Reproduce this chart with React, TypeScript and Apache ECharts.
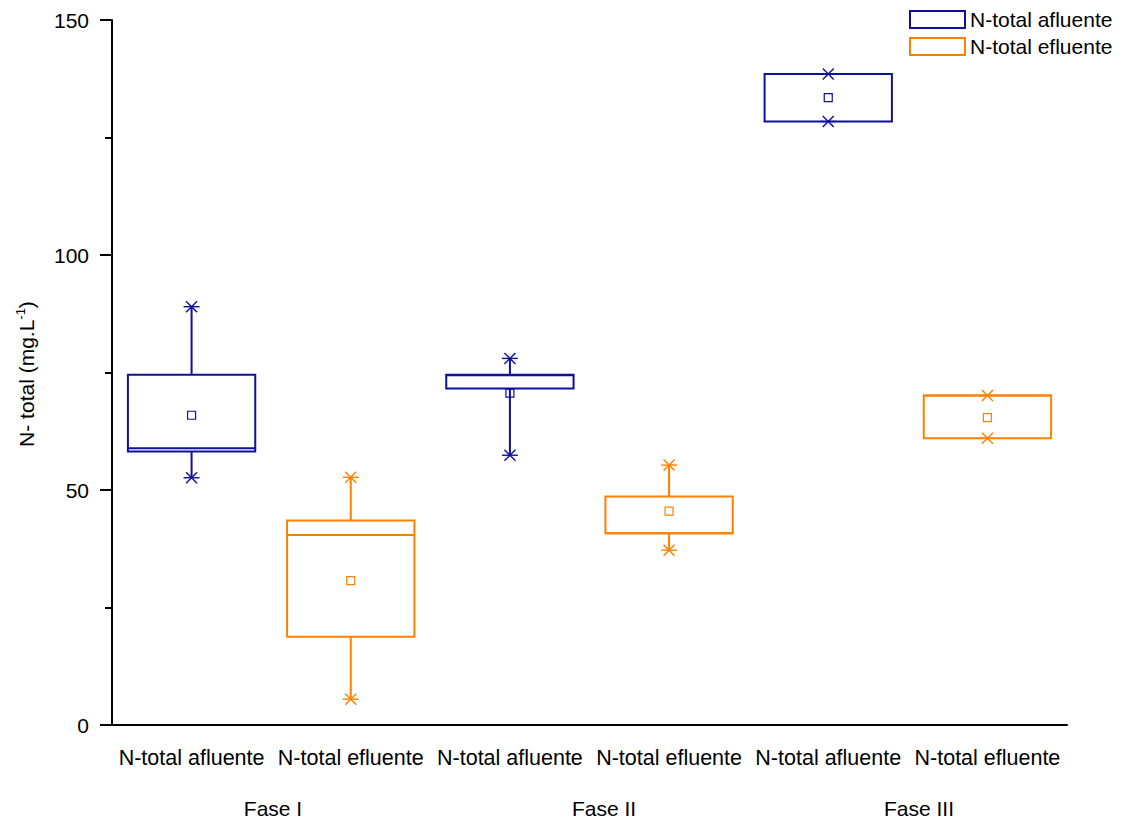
import { useEffect, useRef } from 'react';
import * as echarts from 'echarts';

// Category labels along the x axis (two per phase)
const categories = [
  'N-total afluente',
  'N-total efluente',
  'N-total afluente',
  'N-total efluente',
  'N-total afluente',
  'N-total efluente',
];

const phases = ['Fase I', 'Fase II', 'Fase III'];
const seriesNames = ['N-total afluente', 'N-total efluente'];

// Box statistics per phase: [min, Q1, median, Q3, max, mean] in mg/L
const afluenteStats = [
  [52.6, 58.2, 58.9, 74.5, 89.0, 65.9],
  [57.4, 71.6, 74.4, 74.5, 78.0, 70.6],
  [128.4, 128.4, 138.5, 138.5, 138.5, 133.5],
];
const efluenteStats = [
  [5.5, 18.8, 40.4, 43.5, 52.7, 30.7],
  [37.2, 40.8, 40.8, 48.6, 55.3, 45.5],
  [61.0, 61.0, 70.1, 70.1, 70.1, 65.4],
];

const yTicks = { min: 0, max: 150, interval: 50 };

const FONT = '"Liberation Sans", Arial, Helvetica, sans-serif';
const BLUE = '#0f0fa0';
const ORANGE = '#ff8000';

function makeRenderer(color: string) {
  return (_params: any, api: any) => {
    const xi = api.value(0);
    const pt = (v: number) => api.coord([xi, v]);
    const [cx, yMin] = pt(api.value(1));
    const yQ1 = pt(api.value(2))[1];
    const yMed = pt(api.value(3))[1];
    const yQ3 = pt(api.value(4))[1];
    const yMax = pt(api.value(5))[1];
    const yMean = pt(api.value(6))[1];
    const half = api.size([1, 0])[0] * 0.4;
    const stroke = { stroke: color, lineWidth: 2, fill: 'none' };
    const thin = { stroke: color, lineWidth: 1.4, fill: 'none' };

    const asterisk = (y: number) => [
      { type: 'line', shape: { x1: cx - 8, y1: y, x2: cx + 8, y2: y }, style: thin },
      { type: 'line', shape: { x1: cx - 5.5, y1: y - 5.5, x2: cx + 5.5, y2: y + 5.5 }, style: thin },
      { type: 'line', shape: { x1: cx - 5.5, y1: y + 5.5, x2: cx + 5.5, y2: y - 5.5 }, style: thin },
    ];

    return {
      type: 'group',
      children: [
        { type: 'line', shape: { x1: cx, y1: yQ3, x2: cx, y2: yMax }, style: stroke },
        { type: 'line', shape: { x1: cx, y1: yQ1, x2: cx, y2: yMin }, style: stroke },
        {
          type: 'rect',
          shape: { x: cx - half, y: yQ3, width: half * 2, height: yQ1 - yQ3 },
          style: stroke,
        },
        { type: 'line', shape: { x1: cx - half, y1: yMed, x2: cx + half, y2: yMed }, style: stroke },
        ...asterisk(yMax),
        ...asterisk(yMin),
        {
          type: 'rect',
          shape: { x: cx - 4, y: yMean - 4, width: 8, height: 8 },
          style: { stroke: color, lineWidth: 1.2, fill: 'none' },
        },
      ],
    };
  };
}

export default function App() {
  const ref = useRef<HTMLDivElement>(null);

  useEffect(() => {
    if (!ref.current) return;
    const chart = echarts.init(ref.current, null, { renderer: 'svg' });

    const afluenteData = afluenteStats.map((s, i) => [i * 2, ...s]);
    const efluenteData = efluenteStats.map((s, i) => [i * 2 + 1, ...s]);
    const phaseX = [273, 604, 919];

    chart.setOption({
      animation: false,
      backgroundColor: '#ffffff',
      textStyle: { fontFamily: FONT },
      grid: { left: 112, right: 59, top: 20, bottom: 96, containLabel: false },
      legend: {
        orient: 'vertical',
        left: 909,
        top: 9,
        padding: 0,
        itemWidth: 55,
        itemHeight: 17,
        itemGap: 6,
        textStyle: { fontSize: 21, color: '#000', fontFamily: FONT },
        data: [
          {
            name: seriesNames[0],
            icon: 'rect',
            itemStyle: { color: '#ffffff', borderColor: BLUE, borderWidth: 2 },
          },
          {
            name: seriesNames[1],
            icon: 'rect',
            itemStyle: { color: '#ffffff', borderColor: ORANGE, borderWidth: 2 },
          },
        ],
      },
      xAxis: {
        type: 'category',
        data: categories,
        boundaryGap: true,
        axisLine: { lineStyle: { color: '#000', width: 2 } },
        axisTick: { alignWithLabel: true, length: 13, lineStyle: { color: '#000', width: 2 } },
        axisLabel: { fontSize: 21.5, color: '#000', margin: 22, fontFamily: FONT, interval: 0 },
        splitLine: { show: false },
      },
      yAxis: {
        type: 'value',
        min: yTicks.min,
        max: yTicks.max,
        interval: yTicks.interval,
        axisLine: { show: true, lineStyle: { color: '#000', width: 2 } },
        axisTick: { show: true, length: 12, lineStyle: { color: '#000', width: 2 } },
        minorTick: { show: true, splitNumber: 2, length: 7, lineStyle: { color: '#000', width: 2 } },
        axisLabel: { fontSize: 21, color: '#000', margin: 23, fontFamily: FONT },
        splitLine: { show: false },
      },
      series: [
        {
          name: seriesNames[0],
          type: 'custom',
          itemStyle: { color: BLUE },
          renderItem: makeRenderer(BLUE),
          encode: { x: 0, y: [1, 2, 3, 4, 5, 6] },
          data: afluenteData,
          z: 3,
        },
        {
          name: seriesNames[1],
          type: 'custom',
          itemStyle: { color: ORANGE },
          renderItem: makeRenderer(ORANGE),
          encode: { x: 0, y: [1, 2, 3, 4, 5, 6] },
          data: efluenteData,
          z: 3,
        },
      ],
      graphic: [
        ...phases.map((p, i) => ({
          type: 'text',
          x: phaseX[i],
          y: 808,
          style: {
            text: p,
            fontSize: 21,
            fontFamily: FONT,
            fill: '#000',
            align: 'center',
            verticalAlign: 'middle',
          },
        })),
        {
          type: 'text',
          x: 26,
          y: 374,
          rotation: Math.PI / 2,
          style: {
            text: '{t|N- total (mg.L}{s|-1}{t|)}',
            align: 'center',
            verticalAlign: 'middle',
            fill: '#000',
            rich: {
              t: { fontSize: 21, fontFamily: FONT, fill: '#000', lineHeight: 24 },
              s: { fontSize: 13, fontFamily: FONT, fill: '#000', lineHeight: 13, verticalAlign: 'top' },
            },
          },
        },
      ],
    });

    return () => chart.dispose();
  }, []);

  return (
    <div
      ref={ref}
      style={{ position: 'fixed', left: 0, top: 0, width: 1126, height: 821 }}
    />
  );
}
